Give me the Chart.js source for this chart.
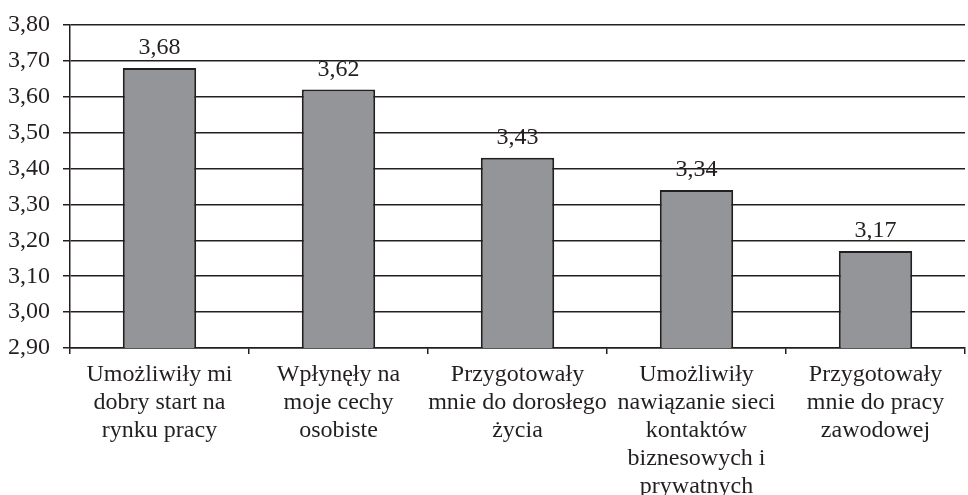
<!DOCTYPE html>
<html>
<head>
<meta charset="utf-8">
<script src="https://cdn.jsdelivr.net/npm/chart.js@4"></script>
<style>
  html, body { margin: 0; padding: 0; background: #fff; }
  #wrap { width: 968px; height: 495px; }
</style>
</head>
<body>
<div id="wrap"><canvas id="chart"></canvas></div>
<script>
const categories = [
  ["Umożliwiły mi", "dobry start na", "rynku pracy"],
  ["Wpłynęły na", "moje cechy", "osobiste"],
  ["Przygotowały", "mnie do dorosłego", "życia"],
  ["Umożliwiły", "nawiązanie sieci", "kontaktów", "biznesowych i", "prywatnych"],
  ["Przygotowały", "mnie do pracy", "zawodowej"]
];
const values = [3.68, 3.62, 3.43, 3.34, 3.17];
const yMin = 2.9;
const yMax = 3.8;
const yStep = 0.1;

const serif = "'Liberation Serif', 'Times New Roman', serif";
const fmt = v => v.toFixed(2).replace(".", ",");

// etykiety wartości nad słupkami
const valueLabels = {
  id: "valueLabels",
  afterDatasetsDraw(chart) {
    const ctx = chart.ctx;
    const meta = chart.getDatasetMeta(0);
    ctx.save();
    ctx.font = "24px " + serif;
    ctx.fillStyle = "#231f20";
    ctx.textAlign = "center";
    ctx.textBaseline = "alphabetic";
    meta.data.forEach((bar, i) => {
      ctx.fillText(fmt(values[i]), bar.x, bar.y - 14);
    });
    ctx.restore();
  }
};

const chartCanvas = document.getElementById("chart");

new Chart(chartCanvas, {
  type: "bar",
  data: {
    labels: categories,
    datasets: [{
      data: values,
      backgroundColor: "#939598",
      borderColor: "#231f20",
      borderWidth: 2,
      categoryPercentage: 0.82,
      barPercentage: 0.5
    }]
  },
  options: {
    responsive: true,
    maintainAspectRatio: false,
    animation: false,
    layout: { padding: { top: 0, right: 3, left: -5, bottom: -13 } },
    plugins: {
      legend: { display: false },
      tooltip: { enabled: false }
    },
    scales: {
      x: {
        grid: {
          display: true,
          drawOnChartArea: false,
          drawTicks: true,
          tickLength: 6,
          color: "#231f20",
          lineWidth: 1.5
        },
        border: { display: true, color: "#231f20", width: 1.5 },
        ticks: {
          color: "#231f20",
          font: { family: serif, size: 24, lineHeight: 28 / 24 },
          maxRotation: 0,
          autoSkip: false,
          padding: 7
        }
      },
      y: {
        min: yMin,
        max: yMax,
        grid: {
          color: "#231f20",
          lineWidth: 1.5,
          tickLength: 7
        },
        border: { display: true, color: "#231f20", width: 1.5 },
        ticks: {
          stepSize: yStep,
          color: "#231f20",
          font: { family: serif, size: 24, lineHeight: 1 },
          padding: 13,
          callback: v => fmt(v)
        }
      }
    }
  },
  plugins: [valueLabels]
});
</script>
</body>
</html>
